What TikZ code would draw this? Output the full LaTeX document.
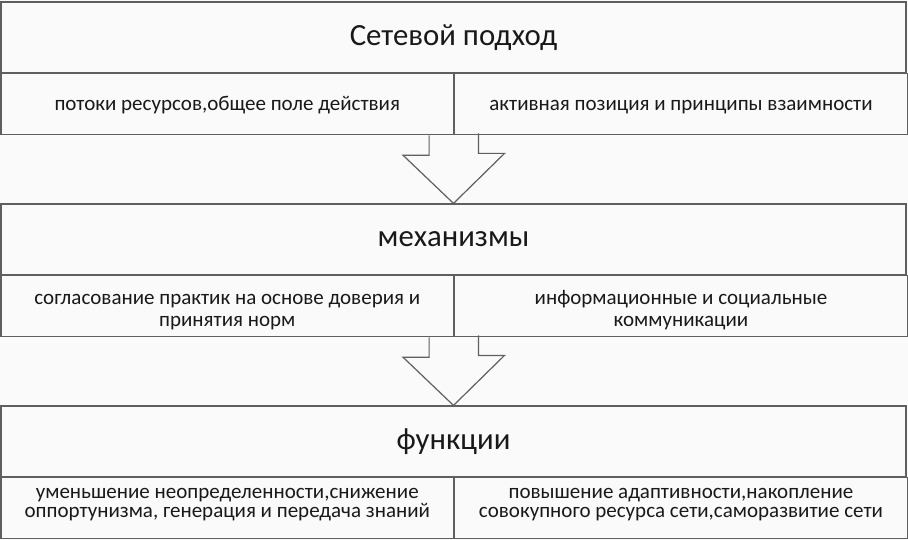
\documentclass[tikz,border=0pt]{standalone}
\usepackage{fontspec}
\setmainfont{Carlito}
\usepackage{xcolor}
\usepackage{tikz}
\usetikzlibrary{positioning}
\definecolor{linegray}{RGB}{95,95,95}
\definecolor{paper}{RGB}{250,250,250}
\newcommand\rowlift{\rule{0pt}{25pt}}

\begin{document}
\begin{tikzpicture}[
    x                 = 1pt,
    y                 = -1pt,
    line width        = 1.2pt,
    every node/.style = {text=black!90, inner sep=0pt},
    title/.style      = {draw=linegray, minimum width=905pt, minimum height=70.5pt,
                         font=\fontsize{30.8}{30.8}\selectfont},
    cell/.style       = {draw=linegray, minimum width=452.5pt, minimum height=61pt,
                         align=center, font=\fontsize{21}{22}\selectfont,
                         execute at begin node={\rule{0pt}{20pt}}, execute at end node=\strut},
    tightcell/.style  = {cell, font=\fontsize{21}{19}\selectfont,
                         execute at end node={\rule[-11pt]{0pt}{11pt}}},
    blockarrow/.style = {draw=linegray, line join=miter}
  ]
\fill[paper] (0,0) rectangle (908,540);
\useasboundingbox (0,0) rectangle (908,540);

% approach
\node[title] (t1) at (453.5,37.25) {Сетевой подход};
\node[cell, below right=0pt of t1.south west] (cl1) {потоки ресурсов,общее поле действия};
\node[cell, right=0pt of cl1] (cr1) {активная позиция и принципы взаимности};

% mechanisms
\node[title] (t2) at (453.5,239.25) {механизмы};
\node[cell, below right=0pt of t2.south west] (cl2) {\rowlift согласование практик на основе доверия и\\принятия норм};
\node[cell, right=0pt of cl2] (cr2) {\rowlift информационные и социальные\\коммуникации};

% functions
\node[title] (t3) at (453.5,441.25) {функции};
\node[tightcell, below right=0pt of t3.south west] (cl3) {уменьшение неопределенности,снижение\\оппортунизма, генерация и передача знаний};
\node[tightcell, right=0pt of cl3] (cr3) {повышение адаптивности,накопление\\совокупного ресурса сети,саморазвитие сети};

% block arrows
\foreach \u/\v in {1/2, 2/3}
  \draw[blockarrow] (cl\u.south east) ++(-25,0) -- ++(0,20) -- ++(-26,0)
    -- (t\v.north) -- ++(51,-50) -- ++(-26,0) -- ++(0,-20);
\end{tikzpicture}
\end{document}
